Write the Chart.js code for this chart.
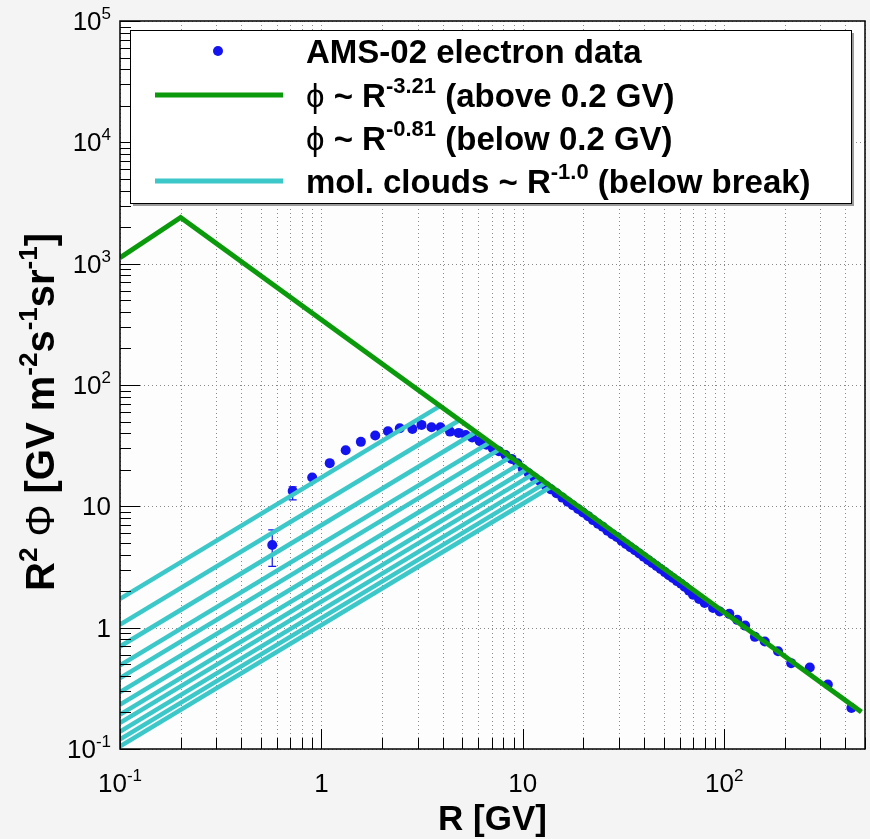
<!DOCTYPE html>
<html>
<head>
<meta charset="utf-8">
<script src="https://cdn.jsdelivr.net/npm/chart.js@4.4.1/dist/chart.umd.min.js"></script>
<style>
  html, body { margin: 0; padding: 0; background: #f4f4f4; }
  #wrap { width: 870px; height: 839px; }
</style>
</head>
<body>
<div id="wrap"><canvas id="spectrum" width="870" height="839"></canvas></div>
<script>
// AMS-02 electrons: rigidity [GV] and R^2 * flux
const dataR = [0.57, 0.72, 0.90, 1.10, 1.32, 1.57, 1.85, 2.14, 2.45, 2.83, 3.14, 3.52, 3.90,
  4.35, 4.8, 5.2, 5.6, 6.1, 6.6, 7.1, 7.6, 8.2, 8.8, 9.4, 10.0, 10.7, 11.4, 12.2, 13.0,
  13.8, 14.7, 15.7, 16.7, 17.7, 18.8, 19.9, 21.1, 22.3, 23.6, 24.9, 26.3, 27.8, 29.3,
  30.9, 32.5, 34.2, 36.0, 37.9, 39.8, 41.8, 43.9, 46.1, 48.3, 50.7, 53.1, 55.6, 58.3,
  61.0, 63.8, 66.8, 70.0, 75.0, 80.0, 88.0, 95.0, 106, 116, 127, 142, 159, 185, 215,
  266, 327, 428];
const dataVal = [4.8, 13.4, 17.3, 22.7, 29.0, 34.0, 38.3, 41.6, 44.0, 43.4, 46.9, 44.9, 44.9,
  41.3, 40.3, 38.7, 36.9, 34.6, 32.2, 30.0, 28.5, 26.5, 24.6, 22.6, 20.3, 18.7, 17.3, 16.0,
  14.8, 13.8, 12.8, 11.8, 10.9, 10.2, 9.5, 8.9, 8.3, 7.7, 7.2, 6.8, 6.3, 5.9, 5.6,
  5.2, 4.9, 4.6, 4.35, 4.08, 3.84, 3.62, 3.41, 3.22, 3.04, 2.87, 2.71, 2.57, 2.42,
  2.30, 2.17, 2.02, 1.87, 1.72, 1.60, 1.45, 1.36, 1.30, 1.16, 1.04, 0.84, 0.77, 0.64,
  0.51, 0.47, 0.34, 0.218];

// error bars (only the lowest bins have visible ones)
const errR = [0.57, 0.72];
const errLo = [3.2, 11.3];
const errHi = [6.4, 14.5];

// broken power law: corners of the line
const pwlR = [0.1, 0.2, 480];
const pwlVal = [1120, 2400, 0.202];

// molecular cloud lines: value at 0.1 GV and where each one breaks
const cloudStartR = 0.1;
const cloudStartVal = [1.73, 1.06, 0.70, 0.49, 0.384, 0.294, 0.232, 0.192, 0.164, 0.139, 0.120, 0.105];
const cloudBreakR = [3.89, 4.86, 5.86, 6.89, 7.70, 8.68, 9.66, 10.5, 11.3, 12.2, 13.0, 13.8];
const cloudBreakVal = [67.3, 51.5, 41.0, 33.8, 29.6, 25.5, 22.4, 20.2, 18.5, 17.0, 15.6, 14.5];

// axes
const xMin = 0.1, xMax = 500;
const yMin = 0.1, yMax = 1e5;
const xTicks = [0.1, 1, 10, 100];
const xTickLabels = ['10^{-1}', '1', '10', '10^{2}'];
const yTicks = [0.1, 1, 10, 100, 1000, 10000, 100000];
const yTickLabels = ['10^{-1}', '1', '10', '10^{2}', '10^{3}', '10^{4}', '10^{5}'];

const FONT = '"Liberation Sans", Arial, Helvetica, sans-serif';
const GREEN = '#0b9a0b';
const CYAN = '#3cc8c8';
const BLUE = '#1414f0';

// --- text with ^{superscripts} and ~{plain weight} pieces ---
function parseRich(str) {
    const parts = [];
    const re = /([\^~])\{([^}]*)\}/g;
    let last = 0, m;
    while ((m = re.exec(str))) {
        if (m.index > last) parts.push({ t: str.slice(last, m.index), sup: false, plain: false });
        parts.push({ t: m[2], sup: m[1] === '^', plain: m[1] === '~' });
        last = re.lastIndex;
    }
    if (last < str.length) parts.push({ t: str.slice(last), sup: false, plain: false });
    return parts;
}

function partFont(p, size, weight) {
    const s = p.sup ? Math.round(size * 0.66) : size;
    const w = p.plain ? 'normal' : weight;
    return w + ' ' + s + 'px ' + FONT;
}

function drawRich(ctx, str, x, y, size, weight, align) {
    const parts = parseRich(str);
    let total = 0;
    parts.forEach(p => {
        ctx.font = partFont(p, size, weight);
        p.w = ctx.measureText(p.t).width;
        total += p.w;
    });
    let cx = x;
    if (align === 'center') cx = x - total / 2;
    if (align === 'right') cx = x - total;
    ctx.textAlign = 'left';
    ctx.textBaseline = 'alphabetic';
    parts.forEach(p => {
        ctx.font = partFont(p, size, weight);
        ctx.fillText(p.t, cx, p.sup ? y - size * 0.42 : y);
        cx += p.w;
    });
}

// grid positions: 1..9 times each decade inside the range
function decadeSteps(lo, hi) {
    const out = [];
    for (let e = Math.floor(Math.log10(lo)); e <= Math.ceil(Math.log10(hi)); e++) {
        for (let k = 1; k <= 9; k++) {
            const v = k * Math.pow(10, e);
            if (v >= lo * 0.999 && v <= hi * 1.001) out.push(v);
        }
    }
    return out;
}

const frameDecor = {
    id: 'frameDecor',
    beforeDraw(chart) {
        const { ctx, chartArea: a } = chart;
        const xs = chart.scales.x, ys = chart.scales.y;
        ctx.save();
        ctx.fillStyle = '#f4f4f4';
        ctx.fillRect(0, 0, chart.width, chart.height);
        ctx.fillStyle = '#fdfdfd';
        ctx.fillRect(a.left, a.top, a.right - a.left, a.bottom - a.top);

        // dotted grid: every minor step along x, decades along y
        ctx.strokeStyle = '#8a8a8a';
        ctx.lineWidth = 1;
        ctx.setLineDash([1, 3]);
        decadeSteps(xMin, xMax).forEach(v => {
            const px = Math.round(xs.getPixelForValue(v)) + 0.5;
            ctx.beginPath(); ctx.moveTo(px, a.top); ctx.lineTo(px, a.bottom); ctx.stroke();
        });
        yTicks.forEach(v => {
            const py = Math.round(ys.getPixelForValue(v)) + 0.5;
            ctx.beginPath(); ctx.moveTo(a.left, py); ctx.lineTo(a.right, py); ctx.stroke();
        });
        ctx.setLineDash([]);

        // error bars sit under the markers
        ctx.strokeStyle = BLUE;
        ctx.lineWidth = 1.2;
        errR.forEach((r, i) => {
            const px = xs.getPixelForValue(r);
            const y0 = ys.getPixelForValue(errLo[i]);
            const y1 = ys.getPixelForValue(errHi[i]);
            ctx.beginPath();
            ctx.moveTo(px, y0); ctx.lineTo(px, y1);
            ctx.moveTo(px - 4, y0); ctx.lineTo(px + 4, y0);
            ctx.moveTo(px - 4, y1); ctx.lineTo(px + 4, y1);
            ctx.stroke();
        });
        ctx.restore();
    },
    afterDatasetsDraw(chart) {
        const { ctx, chartArea: a } = chart;
        const xs = chart.scales.x, ys = chart.scales.y;
        ctx.save();

        // frame
        ctx.strokeStyle = '#000';
        ctx.lineWidth = 1.5;
        ctx.strokeRect(a.left, a.top, a.right - a.left, a.bottom - a.top);

        // tick marks, drawn inwards
        ctx.lineWidth = 1;
        ctx.beginPath();
        decadeSteps(xMin, xMax).forEach(v => {
            const px = Math.round(xs.getPixelForValue(v)) + 0.5;
            const len = xTicks.includes(v) ? 20 : 11;
            ctx.moveTo(px, a.bottom); ctx.lineTo(px, a.bottom - len);
        });
        decadeSteps(yMin, yMax).forEach(v => {
            const py = Math.round(ys.getPixelForValue(v)) + 0.5;
            const len = yTicks.includes(v) ? 20 : 11;
            ctx.moveTo(a.left, py); ctx.lineTo(a.left + len, py);
        });
        ctx.stroke();

        // tick labels
        ctx.fillStyle = '#000';
        xTicks.forEach((v, i) => {
            drawRich(ctx, xTickLabels[i], xs.getPixelForValue(v), a.bottom + 43, 26, 'normal', 'center');
        });
        yTicks.forEach((v, i) => {
            drawRich(ctx, yTickLabels[i], a.left - 9, ys.getPixelForValue(v) + 9, 26, 'normal', 'right');
        });

        // axis titles
        drawRich(ctx, 'R [GV]', (a.left + a.right) / 2, 830, 35, 'bold', 'center');
        ctx.save();
        ctx.translate(54, 412);
        ctx.rotate(-Math.PI / 2);
        drawRich(ctx, 'R^{2} ~{\u03A6} [GV m^{-2}s^{-1}sr^{-1}]', 0, 0, 40, 'bold', 'center');
        ctx.restore();

        // legend box with shadow
        const lx = 130, ly = 30, lw = 721, lh = 173;
        ctx.fillStyle = '#9a9a9a';
        ctx.fillRect(lx + 3, ly + 3, lw, lh);
        ctx.fillStyle = '#ffffff';
        ctx.fillRect(lx, ly, lw, lh);
        ctx.strokeStyle = '#000';
        ctx.lineWidth = 1;
        ctx.strokeRect(lx + 0.5, ly + 0.5, lw, lh);

        const rows = [51, 95, 138, 181];
        const tx = 306;
        ctx.fillStyle = BLUE;
        ctx.beginPath(); ctx.arc(218, rows[0], 5, 0, Math.PI * 2); ctx.fill();
        ctx.lineCap = 'butt';
        ctx.strokeStyle = GREEN; ctx.lineWidth = 5;
        ctx.beginPath(); ctx.moveTo(155, rows[1]); ctx.lineTo(283, rows[1]); ctx.stroke();
        ctx.strokeStyle = CYAN; ctx.lineWidth = 5;
        ctx.beginPath(); ctx.moveTo(155, rows[3]); ctx.lineTo(283, rows[3]); ctx.stroke();

        ctx.fillStyle = '#000';
        const legendText = [
            'AMS-02 electron data',
            '~{\u03D5} ~ R^{-3.21} (above 0.2 GV)',
            '~{\u03D5} ~ R^{-0.81} (below 0.2 GV)',
            'mol. clouds ~ R^{-1.0} (below break)'
        ];
        legendText.forEach((t, i) => drawRich(ctx, t, tx, rows[i] + 12, 33, 'bold', 'left'));
        ctx.restore();
    }
};

// datasets built from the arrays above
const pointsSet = {
    label: 'AMS-02 electron data',
    data: dataR.map((r, i) => ({ x: r, y: dataVal[i] })),
    showLine: false,
    pointRadius: 5,
    pointBackgroundColor: BLUE,
    pointBorderWidth: 0,
    order: 2
};

const pwlSet = {
    label: 'power law',
    data: pwlR.map((r, i) => ({ x: r, y: pwlVal[i] })),
    showLine: true,
    borderColor: GREEN,
    borderWidth: 5,
    pointRadius: 0,
    order: 0
};

const cloudSets = cloudStartVal.map((v, i) => ({
    label: 'mol. clouds ' + i,
    data: [{ x: cloudStartR, y: v }, { x: cloudBreakR[i], y: cloudBreakVal[i] }],
    showLine: true,
    borderColor: CYAN,
    borderWidth: 4.5,
    pointRadius: 0,
    order: 1
}));

new Chart(document.getElementById('spectrum'), {
    type: 'scatter',
    data: { datasets: [pwlSet, ...cloudSets, pointsSet] },
    options: {
        responsive: false,
        animation: false,
        devicePixelRatio: 1,
        layout: { padding: { left: 120, right: 5, top: 21, bottom: 90 } },
        plugins: { legend: { display: false }, tooltip: { enabled: false } },
        scales: {
            x: { type: 'logarithmic', min: xMin, max: xMax, display: false },
            y: { type: 'logarithmic', min: yMin, max: yMax, display: false }
        }
    },
    plugins: [frameDecor]
});
</script>
</body>
</html>
